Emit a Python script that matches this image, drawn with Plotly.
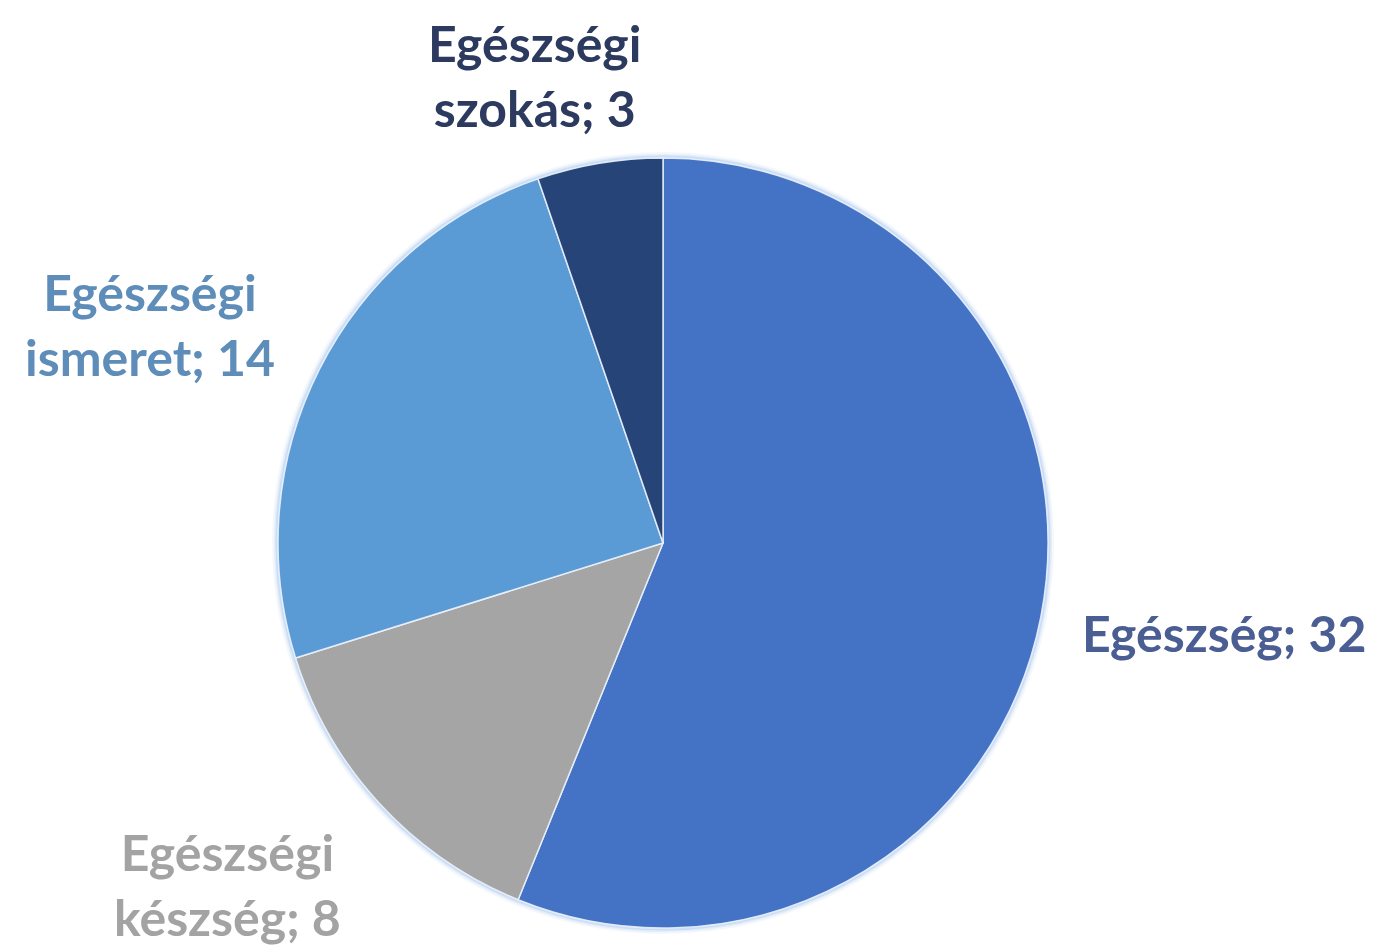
import plotly.graph_objects as go

# Category names and counts, clockwise from 12 o'clock
categories = ["Egészség", "Egészségi készség", "Egészségi ismeret", "Egészségi szokás"]
values = [32, 8, 14, 3]
slice_colors = ["#4472C4", "#A5A5A5", "#5B9BD5", "#264478"]
label_colors = ["#4A5E94", "#A3A3A3", "#5E8DBA", "#2B3A5E"]

# Label anchor points (pixel positions on the 1376x946 canvas)
label_px = [(1224, 633), (228, 884), (150, 324), (534, 75)]

W, H = 1376, 946
cx, cy, r = 663, 543, 385

fig = go.Figure()
fig.add_trace(go.Pie(
    labels=categories,
    values=values,
    sort=False,
    direction="clockwise",
    rotation=0,
    marker=dict(colors=slice_colors, line=dict(color="rgba(235,242,252,0.9)", width=1.5)),
    textinfo="none",
    hoverinfo="label+value",
    showlegend=False,
    domain=dict(x=[(cx - r) / W, (cx + r) / W], y=[(H - cy - r) / H, (H - cy + r) / H]),
))

# soft halo around the pie rim
for w, op in [(10, 0.10), (6, 0.18), (3, 0.3)]:
    fig.add_shape(
        type="circle", xref="paper", yref="paper", layer="below",
        x0=(cx - r - 1) / W, x1=(cx + r + 1) / W,
        y0=(H - cy - r - 1) / H, y1=(H - cy + r + 1) / H,
        line=dict(color=f"rgba(150,190,235,{op})", width=w),
    )

for name, v, col, (px, py) in zip(categories, values, label_colors, label_px):
    fig.add_annotation(
        x=px / W, y=1 - py / H, xref="paper", yref="paper",
        xanchor="center", yanchor="middle", showarrow=False,
        text=f"<b>{name.replace(' ', '<br>')}; {v}</b>",
        font=dict(family="Lato", size=50, color=col),
        align="center",
    )

fig.update_layout(
    width=W, height=H,
    margin=dict(l=0, r=0, t=0, b=0),
    paper_bgcolor="white",
    plot_bgcolor="white",
)

fig.write_html("out.html")
